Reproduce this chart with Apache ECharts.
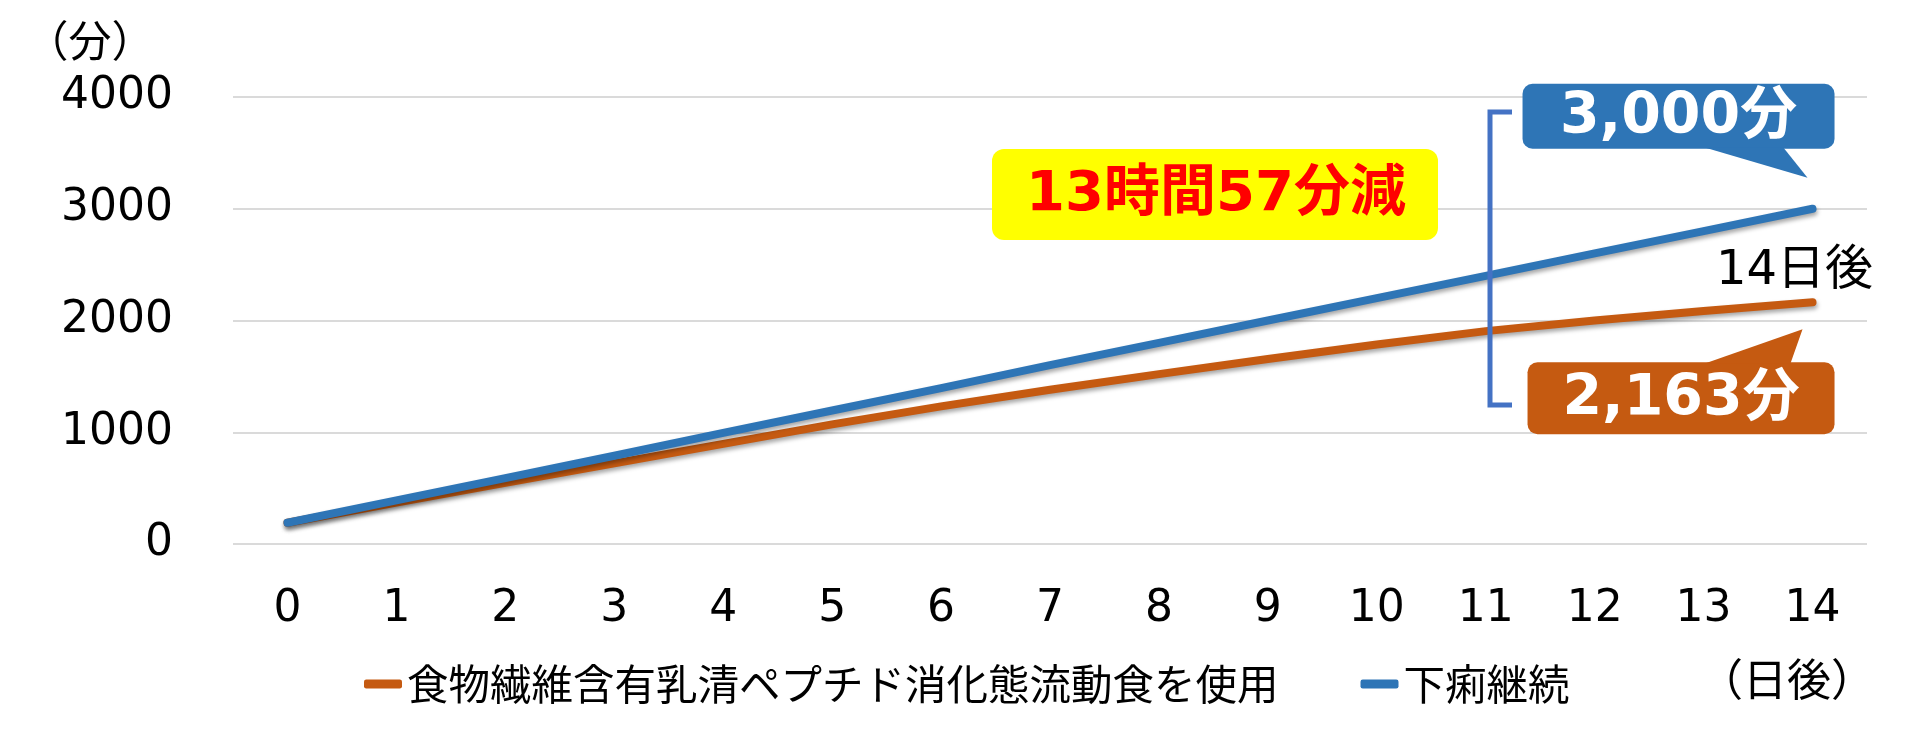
<!DOCTYPE html>
<html><head><meta charset="utf-8">
<script src="https://cdn.jsdelivr.net/npm/echarts@6/dist/echarts.min.js"></script>
<style>html,body{margin:0;padding:0;background:#fff}#c{width:1920px;height:731px}</style>
</head><body><div id="c"></div>
<script>
// ---- data ----
const days = ['0','1','2','3','4','5','6','7','8','9','10','11','12','13','14'];
const enteralName = '食物繊維含有乳清ペプチド消化態流動食を使用';
const diarrheaName = '下痢継続';
const enteralValues = [190, 370, 548, 722, 896, 1070, 1232, 1380, 1520, 1655, 1785, 1905, 2000, 2085, 2163];
const diarrheaValues = [190, 390, 590, 790, 995, 1195, 1395, 1600, 1800, 2000, 2200, 2400, 2600, 2800, 3000];
const yMin = 0, yMax = 4000, yInterval = 1000;
const yUnit = '（分）';
const xUnit = '（日後）';
const endDayLabel = '14日後';

const NUM = '"DejaVu Sans", "Noto Sans CJK JP", sans-serif';
const JP = '"Noto Sans CJK JP", sans-serif';
const BLUE = '#2E75B6', ORANGE = '#C55A11';

const chart = echarts.init(document.getElementById('c'), null, {renderer: 'canvas'});
const lineShadow = {shadowColor: 'rgba(0,0,0,0.35)', shadowBlur: 4, shadowOffsetX: 1, shadowOffsetY: 3};
chart.setOption({
  animation: false,
  backgroundColor: '#fff',
  grid: {left: 233, top: 97, width: 1634, height: 447, containLabel: false},
  legend: {
    left: 359, top: 655, itemGap: 82,
    icon: 'roundRect', itemWidth: 38, itemHeight: 9,
    textStyle: {fontFamily: JP, fontSize: 41.5, color: '#000', lineHeight: 48},
    data: [enteralName, diarrheaName]
  },
  xAxis: {
    type: 'category', data: days, boundaryGap: true,
    axisLine: {show: false}, axisTick: {show: false},
    axisLabel: {fontFamily: NUM, fontSize: 44, color: '#000', margin: 44}
  },
  yAxis: {
    type: 'value', min: yMin, max: yMax, interval: yInterval,
    axisLine: {show: false}, axisTick: {show: false},
    axisLabel: {fontFamily: NUM, fontSize: 44, color: '#000', margin: 60, formatter: v => String(v)},
    splitLine: {lineStyle: {color: '#DADADA', width: 2}}
  },
  series: [
    {name: enteralName, type: 'line', data: enteralValues, symbol: 'none', color: ORANGE,
     lineStyle: Object.assign({width: 8, color: ORANGE, cap: 'round', join: 'round'}, lineShadow)},
    {name: diarrheaName, type: 'line', data: diarrheaValues, symbol: 'none', color: BLUE,
     lineStyle: Object.assign({width: 8, color: BLUE, cap: 'round', join: 'round'}, lineShadow)}
  ]
});

const last = days.length - 1;
const pB = chart.convertToPixel({seriesIndex: 1}, [last, diarrheaValues[last]]);
const pO = chart.convertToPixel({seriesIndex: 0}, [last, enteralValues[last]]);
const fmt = v => v.toLocaleString('en-US') + '分';
const diff = diarrheaValues[last] - enteralValues[last];
const diffText = Math.floor(diff / 60) + '時間' + (diff % 60) + '分減';

function txt(text, x, y, font, fill, align) {
  return {type: 'text', z: 110, style: {text, x, y, font, fill,
    align: align || 'center', verticalAlign: 'middle',
    textAlign: align || 'center', textVerticalAlign: 'middle'}};
}

const bL = pB[0] - 290, bR = pB[0] + 22, bT = pB[1] - 125, bBt = pB[1] - 60;
const oL = pO[0] - 285, oR = pO[0] + 22, oT = pO[1] + 60, oBt = pO[1] + 132;

chart.setOption({graphic: [
  txt(yUnit, 90, 41, '43px ' + JP, '#000'),
  txt(xUnit, 1787, 679, '44px ' + JP, '#000'),
  txt(endDayLabel, 1716, 272, '48px ' + NUM, '#000', 'left'),
  // yellow box
  {type: 'rect', z: 100, shape: {x: 992, y: 149, width: 446, height: 91, r: 12}, style: {fill: '#FFFF00'}},
  txt(diffText, 1216, 195, 'bold 56px ' + NUM, '#FF0000'),
  // bracket
  {type: 'polyline', z: 100, shape: {points: [[1512, 112], [1490, 112], [1490, 405], [1512, 405]]},
   style: {stroke: '#4472C4', lineWidth: 5, fill: null}},
  // blue callout
  {type: 'rect', z: 100, shape: {x: bL, y: bT, width: bR - bL, height: bBt - bT, r: 10}, style: {fill: BLUE}},
  {type: 'polygon', z: 100, shape: {points: [[pB[0] - 107, bBt - 1], [pB[0] - 29, bBt - 1], [pB[0] - 5, pB[1] - 31]]}, style: {fill: BLUE}},
  txt(fmt(diarrheaValues[last]), (bL + bR) / 2, (bT + bBt) / 2 + 2, 'bold 57px ' + NUM, '#fff'),
  // orange callout
  {type: 'rect', z: 100, shape: {x: oL, y: oT, width: oR - oL, height: oBt - oT, r: 10}, style: {fill: ORANGE}},
  {type: 'polygon', z: 100, shape: {points: [[pO[0] - 107, oT + 1], [pO[0] - 22, oT + 1], [pO[0] - 10, pO[1] + 27]]}, style: {fill: ORANGE}},
  txt(fmt(enteralValues[last]), (oL + oR) / 2, (oT + oBt) / 2 + 2, 'bold 57px ' + NUM, '#fff')
]});
</script></body></html>
